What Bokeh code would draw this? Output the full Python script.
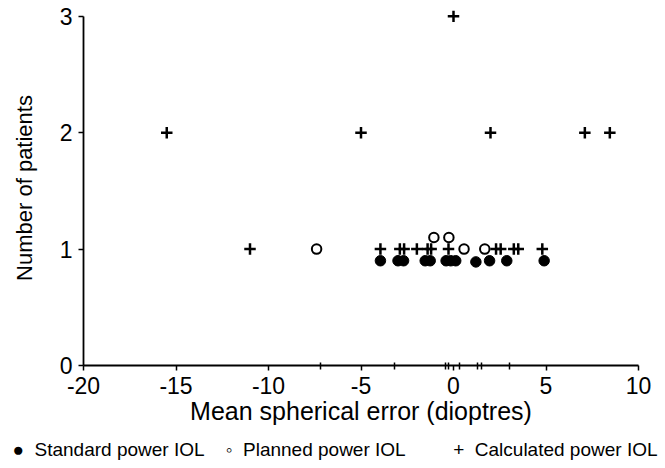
from bokeh.plotting import figure
from bokeh.models import Range1d, FixedTicker, Title
from bokeh.embed import file_html
from bokeh.resources import INLINE

# ---- data ----
standard_x = [-3.95, -3.0, -2.7, -1.53, -1.26, -0.4, -0.15, 0.12, 1.21, 1.95, 2.88, 4.9]
standard_y = [0.9, 0.9, 0.9, 0.9, 0.9, 0.9, 0.9, 0.9, 0.89, 0.9, 0.9, 0.9]

planned_x = [-7.4, -1.06, -0.25, 0.57, 1.69]
planned_y = [1.0, 1.1, 1.1, 1.0, 1.0]

calculated_x = [-15.5, -11.0, -5.0, -3.95, -2.9, -2.67, -1.98, -1.4, -1.21, -0.27,
                0.0, 2.0, 2.3, 2.55, 3.26, 3.5, 4.8, 7.1, 8.45]
calculated_y = [2, 1, 2, 1, 1, 1, 1, 1, 1, 1, 3, 2, 1, 1, 1, 1, 1, 2, 2]

x_ticks = [-20, -15, -10, -5, 0, 5, 10]
x_tick_labels = ["-20", "-15", "-10", "-5", "0", "5", "10"]
y_ticks = [0, 1, 2, 3]
x_axis_marks = [-7.2, -3.2, -0.45, -0.25, 0.3, 1.3, 1.5, 3.03]

series_names = ["Standard power IOL", "Planned power IOL", "Calculated power IOL"]
series_symbols = ["\u25cf", "\u25e6", "+"]

FONT = "Liberation Sans"

p = figure(width=665, height=468, x_range=Range1d(-20, 10), y_range=Range1d(0, 3.05),
           output_backend="svg", toolbar_location=None,
           min_border_left=83, min_border_right=27, min_border_top=10, min_border_bottom=102)
p.outline_line_color = None
p.grid.visible = False
p.background_fill_color = "white"
p.border_fill_color = "white"

p.scatter(standard_x, standard_y, marker="circle", size=10.5,
          fill_color="black", line_color="black")
p.scatter(planned_x, planned_y, marker="circle", size=9.5,
          fill_color="white", line_color="black", line_width=2)
p.scatter(calculated_x, calculated_y, marker="cross", size=11.5,
          line_color="black", line_width=2.5)

xa = p.xaxis[0]
xa.ticker = FixedTicker(ticks=x_ticks, minor_ticks=x_axis_marks)
xa.major_label_overrides = {t: s for t, s in zip(x_ticks, x_tick_labels)}
xa.axis_label = "Mean spherical error (dioptres)"
xa.major_tick_in = 0
xa.major_tick_out = 5
xa.minor_tick_in = 3
xa.minor_tick_out = 4
xa.minor_tick_line_color = "black"
xa.minor_tick_line_width = 1.5
xa.major_label_standoff = 6
xa.axis_label_standoff = 0
xa.axis_label_text_font_size = "25px"

ya = p.yaxis[0]
ya.ticker = FixedTicker(ticks=y_ticks)
ya.bounds = (0, 3)
ya.axis_label = "Number of patients"
ya.major_tick_in = 0
ya.major_tick_out = 5
ya.minor_tick_line_color = None
ya.major_label_standoff = 6
ya.axis_label_standoff = 20
ya.axis_label_text_font_size = "22px"

for ax in (xa, ya):
    ax.axis_line_color = "black"
    ax.axis_line_width = 1.8
    ax.major_tick_line_color = "black"
    ax.major_tick_line_width = 1.5
    ax.major_label_text_font = FONT
    ax.major_label_text_font_size = "23px"
    ax.major_label_text_color = "black"
    ax.axis_label_text_font = FONT
    ax.axis_label_text_font_style = "normal"
    ax.axis_label_text_color = "black"

NB = "\u00a0"
gaps_before = ["", NB * 4, NB * 9]
legend_text = "".join(f"{g}{s}{NB * 2}{n}" for g, s, n in zip(gaps_before, series_symbols, series_names))
key = Title(text=legend_text, align="left", offset=-71, standoff=18,
            text_font=FONT, text_font_size="19px", text_font_style="normal",
            text_color="black")
p.add_layout(key, "below")

open("out.html", "w").write(file_html(p, INLINE))
